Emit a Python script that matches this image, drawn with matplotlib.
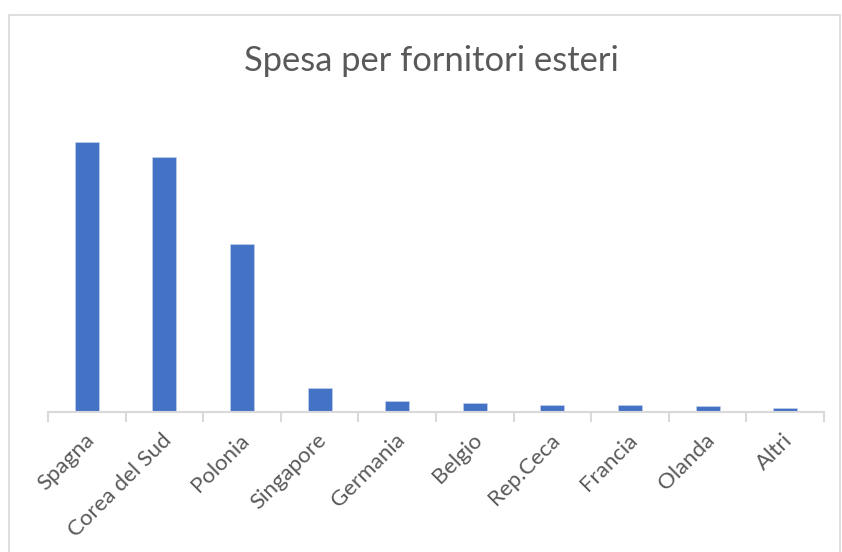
import matplotlib
matplotlib.use("Agg")
import matplotlib.pyplot as plt
import matplotlib.transforms as mtransforms
from matplotlib.patches import Rectangle

categories = ["Spagna", "Corea del Sud", "Polonia", "Singapore", "Germania",
              "Belgio", "Rep.Ceca", "Francia", "Olanda", "Altri"]
values = [270, 255, 168, 23.7, 11, 9.3, 7.3, 6.7, 6, 3.7]

plt.rcParams['font.family'] = ['Lato', 'DejaVu Sans']

W, H = 842, 552
fig = plt.figure(figsize=(W / 100, H / 100), dpi=100)
fig.patch.set_facecolor("white")

# chart border
fig.patches.append(Rectangle((9 / W, -0.05), (840 - 9) / W, (H - 15) / H + 0.05,
                             transform=fig.transFigure, fill=False,
                             edgecolor="#D9D9D9", linewidth=1.2))

ax = fig.add_axes([48 / W, (H - 412) / H, (824 - 48) / W, (412 - 100) / H])
x = list(range(len(categories)))
ax.bar(x, values, width=0.31, color="#4472C4", edgecolor="#C9D3EA", linewidth=0.4)
ax.set_xlim(-0.5, len(categories) - 0.5)
ax.set_ylim(0, 312)
ax.set_yticks([])
for s in ["top", "right", "left"]:
    ax.spines[s].set_visible(False)
ax.spines["bottom"].set_color("#D9D9D9")
ax.spines["bottom"].set_linewidth(1.5)

ax.set_xticks([i - 0.5 for i in range(len(categories) + 1)])
ax.set_xticklabels([])
ax.tick_params(axis="x", which="major", length=7, width=1.5, color="#D9D9D9")

lab_tr = (mtransforms.blended_transform_factory(ax.transData, ax.transAxes)
          + mtransforms.ScaledTranslation(-3 / 100, -18 / 100, fig.dpi_scale_trans))
for xi, lab in zip(x, categories):
    ax.text(xi, 0, lab, transform=lab_tr,
            rotation=45, ha="right", va="top", rotation_mode="anchor",
            fontsize=16, color="#595959")

fig.text(431 / W, 1 - 61 / H, "Spesa per fornitori esteri", ha="center", va="center",
         fontsize=24.8, color="#595959")

fig.savefig("out.png", dpi=100)
